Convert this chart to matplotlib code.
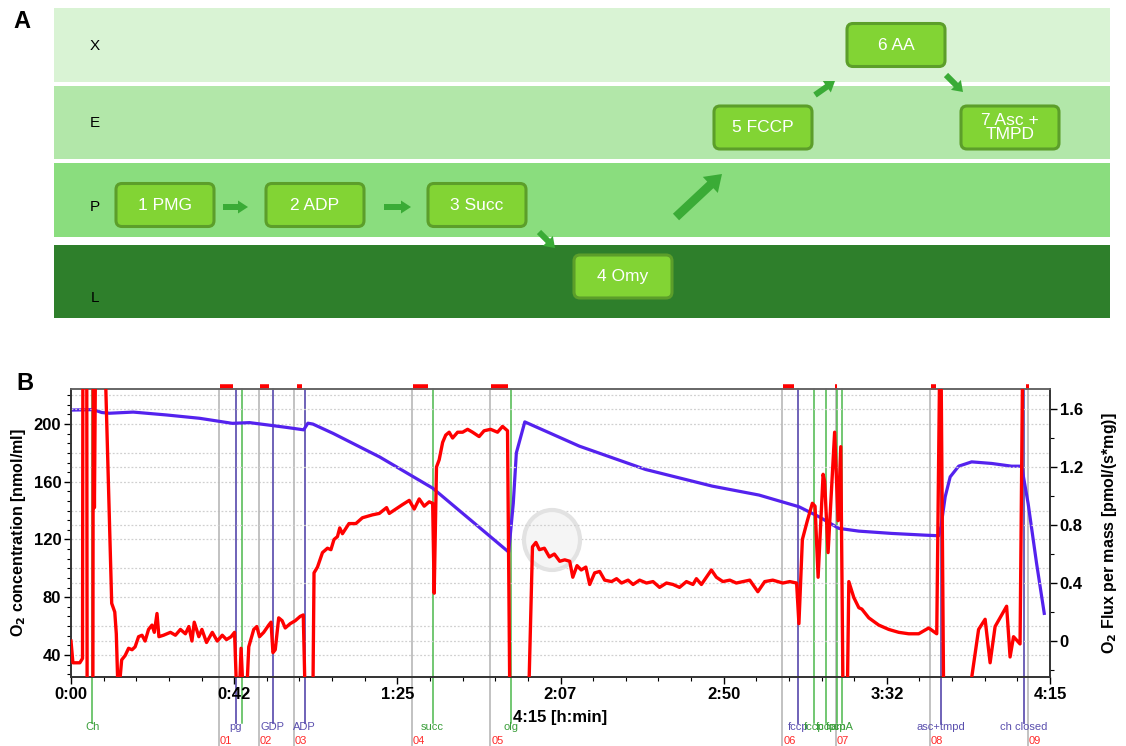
import matplotlib
matplotlib.use('Agg')
import matplotlib.pyplot as plt
import matplotlib.transforms as mtransforms
from matplotlib.patches import FancyBboxPatch, FancyArrow, Ellipse
from matplotlib.ticker import MultipleLocator, FuncFormatter

plt.rcParams['font.family'] = ['Liberation Sans', 'DejaVu Sans']

# ---- panel A: respiratory states and titration steps ----
states = ['X', 'E', 'P', 'L']
steps = ['1 PMG', '2 ADP', '3 Succ', '4 Omy', '5 FCCP', '6 AA', '7 Asc +\nTMPD']
step_state = ['P', 'P', 'P', 'L', 'E', 'X', 'E']

# ---- panel B: oxygraph trace (time in min) ----
time_ticks = [0, 42.5, 85, 127.5, 170, 212.5, 255]
time_labels = ['0:00', '0:42', '1:25', '2:07', '2:50', '3:32', '4:15']

conc_t = [0, 5.8, 8.0, 10.0, 16.2, 24.9, 33.5, 42.0, 46.5, 50.9, 56.1, 60.6, 61.7, 63.0,
          68.3, 80.4, 94.2, 114.0, 115.2, 116.0, 118.2, 132.4, 149.7, 167.0, 179.2,
          189.6, 194.8, 200.0, 205.2, 213.8, 222.5, 226.0, 226.6, 227.7, 229.0,
          231.2, 234.6, 239.8, 245.0, 247.6, 249.3, 251.5, 253.5]
conc = [209.7, 210.0, 208.0, 207.5, 208.3, 206.3, 204.0, 200.5, 201.0, 199.5, 197.7, 196.0,
        200.6, 200.0, 193.5, 177.2, 155.6, 111.3, 145.0, 180.0, 201.5, 184.7, 168.5, 157.0,
        150.8, 142.7, 135.8, 127.7, 125.8, 124.2, 123.0, 122.6, 128.8, 149.6, 163.4,
        170.8, 173.8, 172.7, 170.8, 170.8, 145.0, 103.5, 68.8]

flux_t = [0, 0.5, 2.3, 3.0, 3.1, 4.1, 4.2, 5.7, 5.8, 6.1, 6.4, 8.8, 10.6, 11.4, 11.8, 12.3,
          13.2, 14.1, 15.0, 15.9, 16.7, 17.6, 18.5, 19.3, 20.2, 21.1, 21.7, 22.4, 22.9, 24.1,
          25.9, 27.2, 28.5, 29.8, 30.7, 31.5, 32.1, 33.3, 34.1, 35.3, 36.8, 38.1, 39.4, 40.5,
          41.7, 42.6, 43.2, 43.8, 44.3, 44.9, 45.7, 46.3, 47.6, 48.4, 49.1, 50.2, 51.5, 52.1,
          52.6, 53.2, 54.1, 55.0, 55.8, 57.1, 58.4, 59.7, 60.5, 61.0, 63.0, 63.3, 64.2, 65.5,
          66.8, 67.7, 68.5, 69.4, 70.0, 70.7, 72.4, 74.2, 75.9, 77.2, 78.5, 80.3, 82.2, 82.9,
          84.6, 86.3, 88.1, 89.4, 90.7, 92.0, 93.3, 94.2, 94.6, 95.2, 95.9, 96.8, 97.6, 98.5,
          99.4, 100.7, 102.0, 103.3, 104.6, 106.3, 107.6, 109.3, 111.1, 112.4, 113.7, 114.3,
          119.2, 120.2, 121.1, 122.0, 123.3, 124.6, 125.9, 127.3, 128.6, 129.9, 130.7, 131.8,
          132.9, 134.1, 135.1, 136.4, 137.7, 139.0, 140.8, 142.1, 143.4, 145.1, 146.4, 148.1,
          149.9, 151.6, 153.3, 155.1, 156.8, 158.5, 160.3, 162.0, 162.9, 164.2, 165.5, 166.8,
          168.1, 169.8, 171.6, 173.3, 175.0, 176.8, 178.9, 180.7, 182.8, 185.4, 187.2, 189.0,
          189.6, 190.5, 191.8, 193.1, 193.8, 194.6, 195.9, 196.3, 197.2, 198.9, 199.8, 200.5,
          201.1, 202.2, 202.6, 203.9, 205.2, 206.0, 207.8, 210.4, 213.0, 215.6, 218.2, 220.8,
          223.4, 225.5, 226.3, 226.6, 227.3, 233.8, 236.4, 238.1, 239.4, 240.7, 242.4, 243.7,
          244.6, 245.5, 247.2, 247.9]
flux = [0.0, -0.15, -0.15, -0.12, 2.0, 2.0, -0.4, -0.4, 2.0, 0.92, 2.0, 2.0, 0.26, 0.20, 0.05,
        -0.4, -0.13, -0.10, -0.05, -0.06, -0.04, 0.03, 0.04, 0.0, 0.08, 0.11, 0.06, 0.19, 0.03,
        0.04, 0.06, 0.04, 0.08, 0.05, 0.10, 0.0, 0.13, 0.03, 0.08, -0.01, 0.06, 0.0, 0.04, 0.01,
        0.03, 0.06, -0.4, -0.4, -0.05, -0.4, -0.4, -0.04, 0.08, 0.10, 0.03, 0.06, 0.11, 0.13,
        -0.08, -0.06, 0.16, 0.14, 0.09, 0.12, 0.14, 0.17, 0.18, -0.4, -0.4, 0.47, 0.51, 0.61,
        0.64, 0.63, 0.70, 0.72, 0.78, 0.74, 0.81, 0.81, 0.85, 0.86, 0.87, 0.88, 0.92, 0.88,
        0.91, 0.94, 0.97, 0.91, 0.98, 0.93, 0.96, 0.95, 0.33, 1.20, 1.25, 1.37, 1.42, 1.44,
        1.40, 1.44, 1.44, 1.46, 1.44, 1.41, 1.45, 1.46, 1.44, 1.48, 1.45, -0.4,
        -0.4, 0.65, 0.68, 0.63, 0.64, 0.58, 0.60, 0.55, 0.56, 0.55, 0.44, 0.52,
        0.49, 0.51, 0.39, 0.47, 0.48, 0.42, 0.41, 0.43, 0.40, 0.42, 0.39, 0.42,
        0.40, 0.41, 0.37, 0.40, 0.39, 0.37, 0.41, 0.39, 0.43, 0.39, 0.44, 0.49,
        0.44, 0.41, 0.42, 0.40, 0.41, 0.42, 0.34, 0.41, 0.42, 0.40, 0.41, 0.40,
        0.12, 0.70, 0.83, 0.95, 0.93, 0.44, 1.15, 1.10, 0.61, 1.44, 0.83, 1.34,
        -0.4, -0.4, 0.41, 0.30, 0.23, 0.22, 0.16, 0.11, 0.08, 0.06, 0.05, 0.05,
        0.09, 0.05, 2.0, 2.0, -0.4, -0.4, 0.08, 0.15, -0.15, 0.10, 0.18, 0.24,
        -0.11, 0.03, -0.02, 2.0]

mark_t = [38.5, 48.9, 58.0, 88.7, 109.2, 185.2, 199.2, 223.7, 249.2]
mark_labels = ['01', '02', '03', '04', '05', '06', '07', '08', '09']
mark_start = [38.8, 49.2, 58.8, 89.0, 109.5, 185.5, 199.0, 224.0, 248.7]
mark_end = [42.1, 51.5, 60.1, 93.1, 113.7, 188.3, 199.6, 225.2, 249.4]

event_t = [5.5, 42.9, 44.5, 52.5, 60.9, 94.2, 114.7, 189.4, 193.5, 196.6, 199.4, 200.8,
           226.5, 248.1]
event_labels = ['Ch', 'pg', '', 'GDP', 'ADP', 'succ', 'olg', 'fccp', 'fccp', 'fccp', 'fccp',
                'amA', 'asc+tmpd', 'ch closed']
event_kind = ['g', 'p', 'g', 'p', 'p', 'g', 'g', 'p', 'g', 'g', 'g', 'g', 'p', 'p']

W, H = 1126, 746
fig = plt.figure(figsize=(W / 100, H / 100), dpi=100)

# ================= panel A =================
axa = fig.add_axes([0, 416 / H, 1, 330 / H])
axa.set_xlim(0, W)
axa.set_ylim(330, 0)
axa.axis('off')

band_y = {'X': (8, 82), 'E': (86, 159), 'P': (163, 237), 'L': (245, 318)}
band_col = {'X': '#d9f3d4', 'E': '#b2e7a9', 'P': '#8add7e', 'L': '#2e7f2b'}
label_y = {'X': 46, 'E': 123, 'P': 207, 'L': 298}
for s in states:
    y0, y1 = band_y[s]
    axa.add_patch(plt.Rectangle((54, y0), 1056, y1 - y0, facecolor=band_col[s],
                                edgecolor='none'))
    axa.text(95, label_y[s], s, fontsize=11, ha='center', va='center', color='black')

box_x = [165, 315, 477, 623, 763, 896, 1010]
box_dy = {'X': 0, 'E': 5, 'P': 5, 'L': -5}
bw, bh = 98, 43
for lab, s, cx in zip(steps, step_state, box_x):
    y0, y1 = band_y[s]
    cy = (y0 + y1) / 2 + box_dy[s]
    axa.add_patch(FancyBboxPatch((cx - bw / 2, cy - bh / 2), bw, bh,
                                 boxstyle='round,pad=0,rounding_size=6',
                                 facecolor='#82d434', edgecolor='#5c9e2a', lw=2.2))
    axa.text(cx, cy, lab, fontsize=12.5, color='white', ha='center', va='center',
             linespacing=0.95)

arrows = [(223, 207, 25, 0, 6, 13, 10),
          (384, 207, 27, 0, 6, 13, 10),
          (539, 232, 16, 16, 6, 14, 10),
          (676, 217, 46, -43, 9, 22, 16),
          (815, 95, 20, -14, 6, 14, 10),
          (946, 75, 17, 17, 6, 14, 10)]
for x, y, dx, dy, w, hw, hl in arrows:
    axa.add_patch(FancyArrow(x, y, dx, dy, width=w, head_width=hw, head_length=hl,
                             length_includes_head=True, color='#3aab36', lw=0))

fig.text(22 / W, 1 - 22 / H, 'A', fontsize=17, fontweight='bold', ha='center', va='center')
fig.text(25 / W, 1 - 383 / H, 'B', fontsize=17, fontweight='bold', ha='center', va='center')

# ================= panel B =================
L, R, T, B = 71, 1050, 389, 677
ax = fig.add_axes([L / W, 1 - B / H, (R - L) / W, (B - T) / H])
ax2 = ax.twinx()

ax.set_xlim(0, 255)
ax.set_ylim(24.7, 224.3)
ax2.set_ylim(-0.248, 1.738)

# grid
for v in range(40, 221, 20):
    ax.axhline(v, color='#d0d0d0', lw=0.9, ls=(0, (1.5, 1.5)), zorder=0)
for v in [0, 0.4, 0.8, 1.2, 1.6]:
    ax2.axhline(v, color='#d0d0d0', lw=0.9, ls=(0, (1.5, 1.5)), zorder=0)

trans = mtransforms.blended_transform_factory(ax.transData, ax.transAxes)

# marks
for t, lab, t0, t1 in zip(mark_t, mark_labels, mark_start, mark_end):
    ax.axvline(t, ymin=-0.25, ymax=1, color='#b8b8b8', lw=1.2, clip_on=False, zorder=1)
    ax.text(t + 0.3, -0.222, lab, transform=trans, color='#ff2a2a', fontsize=8,
            ha='left', va='center')
    ax.plot([t0, t1], [1.007, 1.007], transform=trans, color='#ff0000', lw=4,
            solid_capstyle='butt', clip_on=False, zorder=5)

# events
ev_col = {'p': '#6f62b8', 'g': '#4cb84c'}
txt_col = {'p': '#5a4fae', 'g': '#3a9e3a'}
for t, lab, k in zip(event_t, event_labels, event_kind):
    ax.axvline(t, ymin=-0.16, ymax=1, color=ev_col[k], lw=1.4 if k == 'p' else 1.1,
               clip_on=False, zorder=1)
    if lab:
        ax.text(t, -0.174, lab, transform=trans, color=txt_col[k], fontsize=8,
                ha='center', va='center')

# faint logo watermark
ax.add_patch(Ellipse((552 / W, 1 - 540 / H), 56 / W, 60 / H, transform=fig.transFigure,
                     facecolor='#f5f5f5', edgecolor='#e2e2e2', lw=3, zorder=0.5))

ax.plot(conc_t, conc, color='#5422ee', lw=2.3, zorder=3)
ax2.plot(flux_t, flux, color='#ff0000', lw=2.4, zorder=3)

# axes styling
ax.set_xticks(time_ticks)
ax.set_xticklabels(time_labels)
ax.xaxis.set_minor_locator(MultipleLocator(8.5))
ax.yaxis.set_minor_locator(MultipleLocator(40 / 6))
ax.set_yticks([40, 80, 120, 160, 200])
ax2.yaxis.set_major_locator(MultipleLocator(0.4))
ax2.yaxis.set_minor_locator(MultipleLocator(0.2))
ax2.yaxis.set_major_formatter(FuncFormatter(lambda v, p: '0' if abs(v) < 1e-9 else f'{v:.1f}'))

for a in (ax, ax2):
    a.tick_params(which='major', direction='out', length=5, width=1, pad=2,
                  labelsize=12)
    a.tick_params(which='minor', direction='out', length=3, width=0.8)
    for sp in a.spines.values():
        sp.set_color('#333333')
        sp.set_linewidth(1.2)
    a.spines['top'].set_color('#666666')
for lab in ax.get_xticklabels() + ax.get_yticklabels() + ax2.get_yticklabels():
    lab.set_fontweight('bold')

ax.set_ylabel(r'O$_\mathbf{2}$ concentration [nmol/ml]', fontsize=11.5, fontweight='bold',
              labelpad=4)
ax2.set_ylabel(r'O$_\mathbf{2}$ Flux per mass [pmol/(s*mg)]', fontsize=11.5,
               fontweight='bold', rotation=90, labelpad=12)
ax.text(127.5, -0.14, '4:15 [h:min]', transform=trans, fontsize=12, fontweight='bold',
        ha='center', va='center')

fig.savefig('out.png', dpi=100)
